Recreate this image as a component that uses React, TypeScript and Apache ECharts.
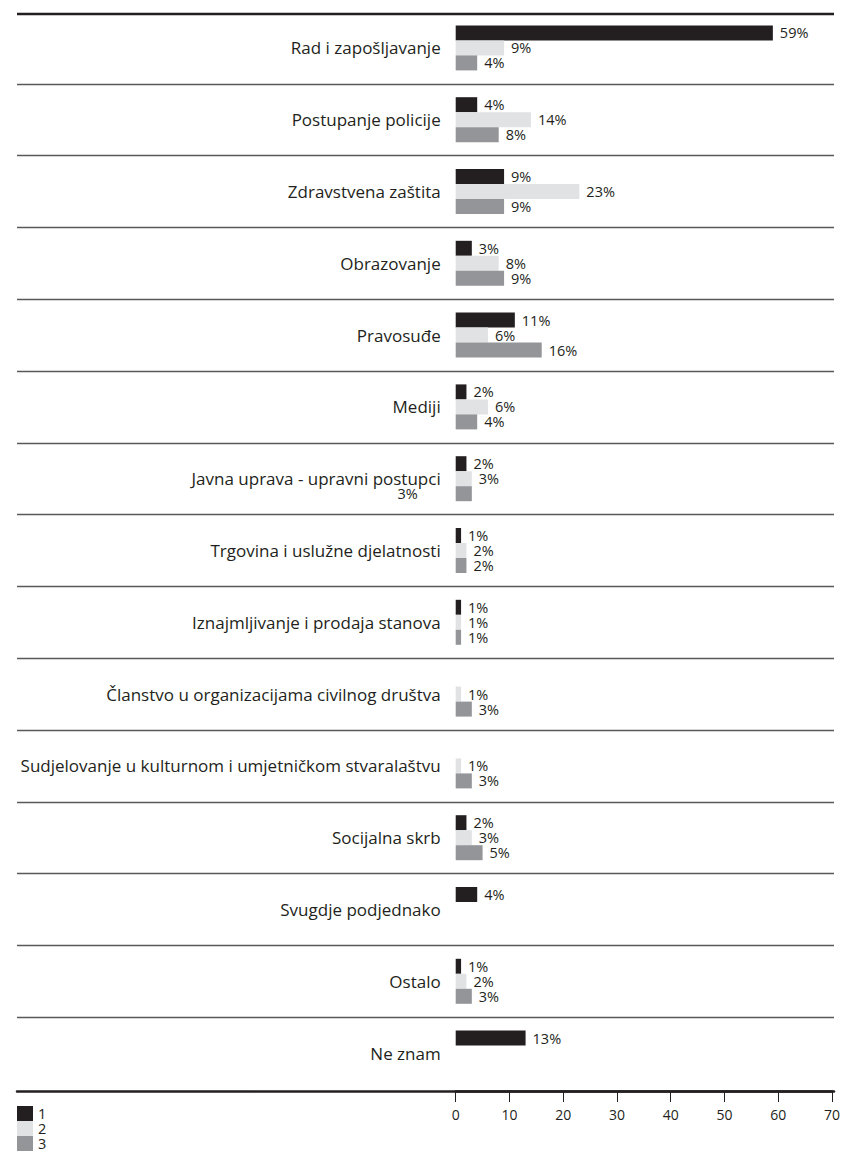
import React, { useEffect, useRef } from "react";
import * as echarts from "echarts";

const categories = [
  "Rad i zapošljavanje",
  "Postupanje policije",
  "Zdravstvena zaštita",
  "Obrazovanje",
  "Pravosuđe",
  "Mediji",
  "Javna uprava - upravni postupci",
  "Trgovina i uslužne djelatnosti",
  "Iznajmljivanje i prodaja stanova",
  "Članstvo u organizacijama civilnog društva",
  "Sudjelovanje u kulturnom i umjetničkom stvaralaštvu",
  "Socijalna skrb",
  "Svugdje podjednako",
  "Ostalo",
  "Ne znam",
];

const seriesNames = ["1", "2", "3"];
const series1 = [59, 4, 9, 3, 11, 2, 2, 1, 1, null, null, 2, 4, 1, 13];
const series2 = [9, 14, 23, 8, 6, 6, 3, 2, 1, 1, 1, 3, null, 2, null];
const series3 = [4, 8, 9, 9, 16, 4, 3, 2, 1, 3, 3, 5, null, 3, null];
const xTicks = [0, 10, 20, 30, 40, 50, 60, 70];

const colors = ["#231f20", "#e1e2e4", "#939598"];
const FONT = "'Open Sans', 'DejaVu Sans', sans-serif";
const TEXT = "#231f20";

export default function App() {
  const ref = useRef<HTMLDivElement>(null);

  useEffect(() => {
    document.body.style.margin = "0";
    if (!ref.current) return;
    const chart = echarts.init(ref.current, null, { renderer: "svg" });

    const mkLabel = () => ({
      show: true,
      position: "right",
      distance: 7,
      formatter: "{c}%",
      fontSize: 14.5,
      lineHeight: 14,
      fontFamily: FONT,
      color: TEXT,
    });

    const s3data = series3.map((v, i) =>
      i === 6
        ? { value: v, label: { position: "left", distance: 38 } }
        : v
    );

    const allData = [series1, series2, s3data];

    const option = {
      animation: false,
      textStyle: { fontFamily: FONT },
      grid: [
        { left: 17, right: 9, top: 12, height: 1077 },
        { left: 455.7, right: 10, top: 12, height: 1077 },
      ],
      graphic: [
        {
          type: "line",
          shape: { x1: 17, y1: 14, x2: 834, y2: 14 },
          style: { stroke: TEXT, lineWidth: 2.5 },
        },
      ],
      legend: {
        orient: "vertical",
        left: 17,
        top: 1106,
        padding: 0,
        itemWidth: 16,
        itemHeight: 15,
        itemGap: 0,
        icon: "rect",
        data: seriesNames,
        textStyle: { fontSize: 14.5, lineHeight: 14, color: TEXT, fontFamily: FONT },
      },
      xAxis: [
        {
          gridIndex: 0,
          type: "value",
          min: 0,
          max: 1,
          offset: 2,
          axisLine: { show: true, lineStyle: { color: TEXT, width: 2.5 } },
          axisTick: { show: false },
          axisLabel: { show: false },
          splitLine: { show: false },
        },
        {
          gridIndex: 1,
          type: "value",
          min: xTicks[0],
          max: xTicks[xTicks.length - 1],
          interval: xTicks[1] - xTicks[0],
          offset: 2,
          axisLine: { show: true, lineStyle: { color: TEXT, width: 2.5 } },
          axisTick: { show: true, length: 11, lineStyle: { color: TEXT, width: 1 } },
          axisLabel: { fontSize: 14, margin: 16, color: TEXT, fontFamily: FONT },
          splitLine: { show: false },
        },
      ],
      yAxis: [
        {
          gridIndex: 0,
          type: "category",
          data: categories,
          inverse: true,
          axisLine: { show: false },
          axisTick: { show: false },
          axisLabel: { show: false },
          splitLine: {
            show: true,
            showMinLine: false,
            showMaxLine: false,
            lineStyle: { color: "#58595b", width: 1.3 },
          },
        },
        {
          gridIndex: 1,
          type: "category",
          data: categories,
          inverse: true,
          axisLine: { show: false },
          axisTick: { show: false },
          splitLine: { show: false },
          axisLabel: { fontSize: 17, margin: 15, color: TEXT, fontFamily: FONT },
        },
      ],
      series: seriesNames.map((name, k) => ({
        name,
        type: "bar",
        xAxisIndex: 1,
        yAxisIndex: 1,
        barWidth: 15,
        barGap: "0%",
        itemStyle: { color: colors[k] },
        label: mkLabel(),
        data: allData[k],
      })),
    };

    chart.setOption(option as any);
    return () => chart.dispose();
  }, []);

  return <div ref={ref} style={{ width: 843, height: 1152 }} />;
}
